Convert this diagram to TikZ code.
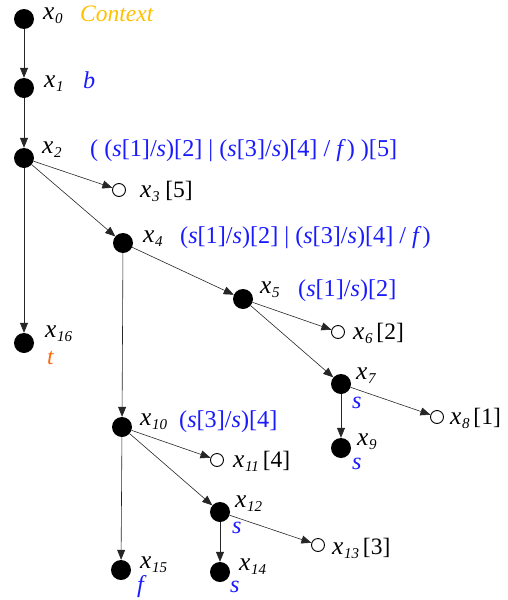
\documentclass[tikz,border=0pt]{standalone}
\usepackage{fontspec}
\setmainfont{Liberation Serif}
\usetikzlibrary{arrows.meta}
\definecolor{ctxcol}{HTML}{FFC000}
\definecolor{bl}{HTML}{1A1AFF}
\definecolor{tcol}{HTML}{FF6A10}
\newcommand{\xs}[1]{{\fontsize{25.5}{25.5}\selectfont\textit{x}}\kern0.5pt\raisebox{-4pt}{\fontsize{15}{15}\selectfont\itshape #1}}
\newcommand{\si}{\textit{s}}
\newcommand{\myf}{\textit{f}\kern1pt}
\begin{document}
\begin{tikzpicture}[x=1pt,y=-1pt,
  full/.style={circle,fill=black,inner sep=0pt,minimum size=20pt},
  open/.style={circle,draw=black,line width=0.9pt,fill=white,inner sep=0pt,minimum size=13pt},
  lbl/.style={anchor=base west,inner sep=0pt,font=\fontsize{23.5}{23.5}\selectfont},
  blu/.style={lbl,text=bl,font=\fontsize{24.2}{24.2}\selectfont},
  edge/.style={draw=black!85,line width=0.6pt,-{Triangle[length=10pt,width=8pt]}}]
\useasboundingbox (0,0) rectangle (508,600);
% nodes
\node[full] (x0) at (24,19) {};
\node[full] (x1) at (24,88) {};
\node[full] (x2) at (24,158) {};
\node[open] (x3) at (119,190) {};
\node[full] (x4) at (123,243) {};
\node[full] (x5) at (243,299) {};
\node[open] (x6) at (338,332) {};
\node[full] (x7) at (341,384) {};
\node[open] (x8) at (437,417) {};
\node[full] (x9) at (341,448) {};
\node[full] (x10) at (122,427) {};
\node[open] (x11) at (217,460) {};
\node[full] (x12) at (220,512) {};
\node[open] (x13) at (318,545) {};
\node[full] (x14) at (220,572) {};
\node[full] (x15) at (121,570) {};
\node[full] (x16) at (24,343) {};
% labels
\node[lbl] (l0) at (43,19) {\xs{0}};
\node[lbl,text=ctxcol] (c0) at (80,21) {\textit{Context}};
\node[lbl] (l1) at (44,87) {\xs{1}};
\node[blu] (c1) at (83,88) {\textit{b}};
\node[lbl] (l2) at (42,153) {\xs{2}};
\node[blu] (c2) at (90,156) {( (\si[1]/\si)[2] | (\si[3]/\si)[4] / \myf) )[5]};
\node[lbl] (l3) at (140,197) {\xs{3}\ [5]};
\node[lbl] (l4) at (143,242) {\xs{4}};
\node[blu] (c4) at (180,243) {(\si[1]/\si)[2] | (\si[3]/\si)[4] / \myf)};
\node[lbl] (l5) at (260,293) {\xs{5}};
\node[blu] (c5) at (298,296) {(\si[1]/\si)[2]};
\node[lbl] (l6) at (353,339) {\xs{6}\,[2]};
\node[lbl] (l7) at (356,379) {\xs{7}};
\node[blu] (c7) at (352,408) {\textit{s}};
\node[lbl] (l8) at (450,424) {\xs{8}\,[1]};
\node[lbl] (l9) at (357,445) {\xs{9}};
\node[blu] (c9) at (352,469) {\textit{s}};
\node[lbl] (l10) at (140,425) {\xs{10}};
\node[blu] (c10) at (179,427) {(\si[3]/\si)[4]};
\node[lbl] (l11) at (233,467) {\xs{11}\,[4]};
\node[lbl] (l12) at (235,507) {\xs{12}};
\node[blu] (c12) at (232,533) {\textit{s}};
\node[lbl] (l13) at (332,554) {\xs{13}\,[3]};
\node[lbl] (l14) at (239,570) {\xs{14}};
\node[blu] (c14) at (230,592) {\textit{s}};
\node[lbl] (l15) at (140,568) {\xs{15}};
\node[blu] (c15) at (137,592) {\textit{f}};
\node[lbl] (l16) at (45,337) {\xs{16}};
\node[lbl,text=tcol] (c16) at (47,364) {\textit{t}};
% edges
\draw[edge] (x0) -- (x1);
\draw[edge] (x1) -- (x2);
\draw[edge] (x2) -- (x3);
\draw[edge] (x2) -- (x4);
\draw[edge] (x2) -- (x16);
\draw[edge] (x4) -- (x5);
\draw[edge] (x4) -- (x10);
\draw[edge] (x5) -- (x6);
\draw[edge] (x5) -- (x7);
\draw[edge] (x7) -- (x8);
\draw[edge] (x7) -- (x9);
\draw[edge] (x10) -- (x11);
\draw[edge] (x10) -- (x12);
\draw[edge] (x10) -- (x15);
\draw[edge] (x12) -- (x13);
\draw[edge] (x12) -- (x14);
\end{tikzpicture}
\end{document}
